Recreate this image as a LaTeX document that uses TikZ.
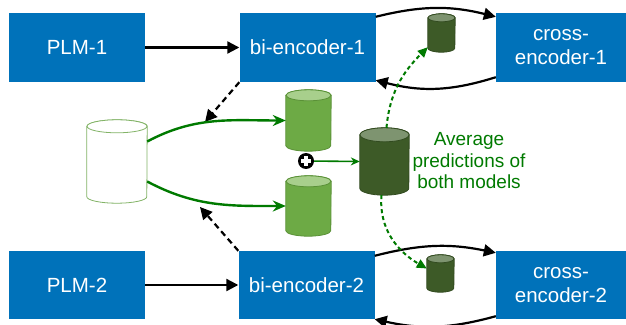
\documentclass[tikz,border=0pt]{standalone}
\usepackage{fontspec}
\setmainfont{Liberation Sans}
\usetikzlibrary{arrows.meta}
\definecolor{boxblue}{RGB}{0,114,186}
\definecolor{arrowgreen}{RGB}{0,122,0}
\definecolor{lightbody}{RGB}{109,170,69}
\definecolor{lighttop}{RGB}{168,207,140}
\definecolor{lightline}{RGB}{90,145,55}
\definecolor{darkbody}{RGB}{61,90,39}
\definecolor{darktop}{RGB}{126,148,112}
\definecolor{darkline}{RGB}{50,75,32}
\definecolor{dbline}{RGB}{130,179,102}

% name, centre, width, height, end radius, body, top, line
\newcommand\datastore[8]{%
    \node[minimum width=#3pt,minimum height=#4pt,inner sep=0pt] (#1) at (#2) {};
    \filldraw[fill=#6,draw=#8,line width=0.8pt] ([yshift=-#5pt]#1.north west) -- ([yshift=#5pt]#1.south west)
        arc[start angle=180,end angle=360,x radius=#3/2,y radius=#5] -- ([yshift=-#5pt]#1.north east)
        arc[start angle=0,end angle=180,x radius=#3/2,y radius=#5] -- cycle;
    \filldraw[fill=#7,draw=#8,line width=0.8pt] ([yshift=-#5pt]#1.north) ellipse[x radius=#3/2,y radius=#5];
}

\begin{document}
\begin{tikzpicture}[x=1pt,y=1pt,>={Triangle[length=12pt,width=12pt]},
    model/.style={fill=boxblue,text=white,minimum width=136pt,minimum height=69pt,
      inner sep=0pt,align=center,font=\fontsize{20.5}{24}\selectfont},
    thickarrow/.style={->,line width=2.2pt},
    greenarrow/.style={-{Stealth[length=13pt,width=11pt]},arrowgreen,line width=2.4pt},
    greendots/.style={-{Triangle[length=10pt,width=9pt]},arrowgreen,line width=2pt,dash pattern=on 4pt off 3pt}]
    \useasboundingbox (0,0) rectangle (626,324);

    % boxes
    \node[model] (plm1) at (77,276.5) {PLM-1};
    \node[model] (bienc1) at (307.5,276.5) {bi-encoder-1};
    \node[model,minimum width=130pt] (cross1) at (561,276.5) {cross-\\encoder-1};
    \node[model,minimum height=68pt] (plm2) at (77,39) {PLM-2};
    \node[model,minimum height=68pt] (bienc2) at (306.5,39) {bi-encoder-2};
    \node[model,minimum width=130pt,minimum height=68pt] (cross2) at (561,39) {cross-\\encoder-2};

    % data stores
    \datastore{db}{117,162.5}{60}{83}{6.5}{white}{white}{dbline}
    \datastore{pred1}{308.5,203.5}{45}{61}{5.5}{lightbody}{lighttop}{lightline}
    \datastore{pred2}{308.5,118}{45}{60}{5.5}{lightbody}{lighttop}{lightline}
    \datastore{avg}{384.5,162.5}{49}{67}{7}{darkbody}{darktop}{darkline}
    \datastore{sm1}{441.5,291}{27}{38}{4}{darkbody}{darktop}{darkline}
    \datastore{sm2}{440.5,50.5}{27}{37}{4}{darkbody}{darktop}{darkline}

    % plus sign
    \node[circle,fill=black,minimum size=16pt,inner sep=0pt] (plus) at (306,163) {};
    \fill[white] ([xshift=-5pt,yshift=-2pt]plus.center) rectangle ([xshift=5pt,yshift=2pt]plus.center);
    \fill[white] ([xshift=-2pt,yshift=-5pt]plus.center) rectangle ([xshift=2pt,yshift=5pt]plus.center);

    \node[text=arrowgreen,align=center,font=\fontsize{19}{21.5}\selectfont] (avgtext) at (469,163)
      {Average\\predictions of\\both models};

    % arrows
    \draw[thickarrow] (plm1) -- (bienc1);
    \draw[thickarrow] (plm2) -- (bienc2);
    \draw[thickarrow] ([yshift=-4pt]bienc1.north east) to[bend left=14] ([yshift=-4pt]cross1.north west);
    \draw[thickarrow] ([yshift=5pt]cross1.south west) to[bend left=16] ([yshift=2pt]bienc1.south east);
    \draw[thickarrow] ([yshift=-5pt]bienc2.north east) to[bend left=13] ([yshift=-2pt]cross2.north west);
    \draw[thickarrow] ([yshift=3pt]cross2.south west) to[bend left=14] (bienc2.south east);

    \coordinate (hit1) at (205,202);
    \coordinate (hit2) at (200,117);
    \draw[thickarrow,dash pattern=on 6pt off 4pt] (bienc1.south west) -- (hit1);
    \draw[thickarrow,dash pattern=on 6pt off 4pt] (bienc2.north west) -- (hit2);

    \draw[greenarrow] ([yshift=20pt]db.east) to[out=28,in=180] (pred1.west);
    \draw[greenarrow] ([yshift=-20pt]db.east) to[out=-28,in=180] (pred2.west);
    \draw[-{Stealth[length=9pt,width=8pt]},arrowgreen,line width=1.6pt] (plus) -- (avg.west);

    \draw[greendots] ([xshift=2pt]avg.north) to[out=85,in=225] ([yshift=5pt]sm1.south west);
    \draw[greendots] ([xshift=-3pt]avg.south) to[out=-95,in=150] ([yshift=5pt]sm2.west);
\end{tikzpicture}
\end{document}
